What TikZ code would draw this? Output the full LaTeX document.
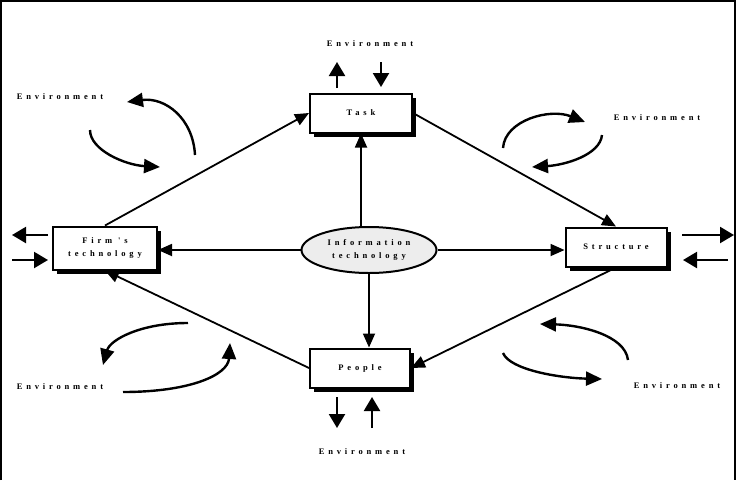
\documentclass[tikz,border=0pt]{standalone}
\usepackage{fontspec}
\setmainfont{Liberation Serif}
\newfontfamily\spacedfont[LetterSpace=45]{Liberation Serif}
\usepackage{tikz}
\usetikzlibrary{calc}
\usetikzlibrary{arrows.meta}
\usetikzlibrary{shadows}
\usetikzlibrary{shapes.geometric}
\tikzset{
  lbl/.style={font=\fontsize{8.5}{13.5}\selectfont\spacedfont\bfseries, align=center},
  blk/.style={lbl, draw, line width=2pt, fill=white, inner sep=0,
    drop shadow={shadow xshift=4pt, shadow yshift=-4pt, fill=black, opacity=1}},
  link/.style={line width=1.8pt, -{Triangle[length=14pt,width=12pt]}},
  envar/.style={line width=2.2pt, -{Triangle[length=14pt,width=16pt]}},
  loop/.style={line width=2.4pt, -{Triangle[length=16pt,width=14pt]}}
}

\begin{document}
\begin{tikzpicture}[x=1pt,y=-1pt]
\useasboundingbox (0,0) rectangle (739,480);
\draw[line width=2pt] (1,480)--(1,1)--(735,1)--(735,480);
% boxes
\node[blk, minimum width=102, minimum height=39] (task) at (361,113) {Task};
\node[blk, minimum width=104, minimum height=43] (firm) at (105,248) {Firm 's\\technology};
\node[blk, minimum width=101, minimum height=39] (struct) at (616,247) {Structure};
\node[blk, minimum width=100, minimum height=39] (people) at (360,368) {People};
\node[lbl, draw, ellipse, line width=2pt, fill=black!7, minimum width=135, minimum height=46, inner sep=0] (info) at (369,250) {Information\\technology};
% links
\draw[link] (firm.north) -- (task.west);
\draw[link] (task.east) -- (struct.north);
\draw[link] (struct.south) -- (people.east);
\draw[link] (people.west) -- (firm.south);
\draw[link] (info.north -| task.south) -- (task.south);
\draw[link] (info.west) -- (info.west -| firm.east);
\draw[link] (info.east) -- (info.east -| struct.west);
\draw[link] (info.south) -- (info.south |- people.north);
% environment labels
\node[lbl] (envT) at (370,44) {Environment};
\node[lbl] (envUL) at (60,97) {Environment};
\node[lbl] (envUR) at (657,118) {Environment};
\node[lbl] (envLL) at (60,387) {Environment};
\node[lbl] (envLR) at (677,386) {Environment};
\node[lbl] (envB) at (362,452) {Environment};
% in/out arrows
\foreach \x/\ya/\yb in {337/88/62, 381/62/87, 337/397/428, 372/428/397}
  \draw[envar] (\x,\ya) -- (\x,\yb);
\foreach \y/\xa/\xb in {235/48/12, 260/12/48, 235/682/734, 260/728/683}
  \draw[envar] (\xa,\y) -- (\xb,\y);
% loops
\draw[loop] (195,155) .. controls (193,118) and (165,97) .. (127,102);
\draw[loop] (90,130) .. controls (90,150) and (125,165) .. (160,167);
\draw[loop] (503,148) .. controls (505,120) and (550,108) .. (585,122);
\draw[loop] (602,135) .. controls (600,155) and (565,165) .. (532,167);
\draw[loop] (628,360) .. controls (625,335) and (580,325) .. (540,324);
\draw[loop] (503,353) .. controls (510,370) and (560,378) .. (602,379);
\draw[loop] (188,323) .. controls (140,323) and (110,340) .. (103,365);
\draw[loop] (123,392) .. controls (190,392) and (228,375) .. (230,343);
\end{tikzpicture}
\end{document}
